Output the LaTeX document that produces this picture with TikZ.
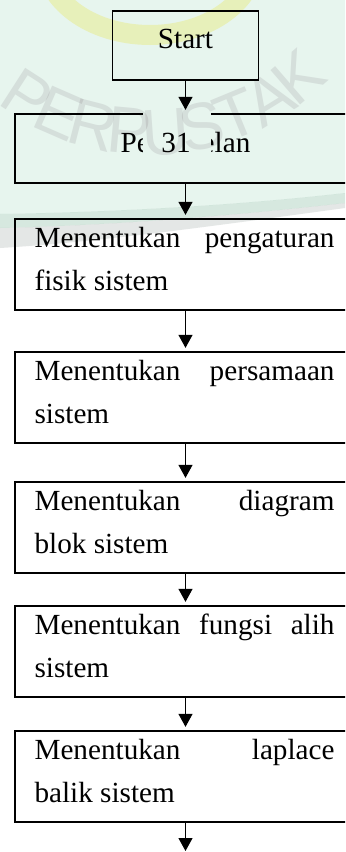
\documentclass[tikz,border=0pt]{standalone}
\usepackage{fontspec}
\setmainfont{Liberation Serif}
\newfontfamily\wmfont{Liberation Sans}
\usetikzlibrary{arrows.meta,calc}

\definecolor{mint}{RGB}{231,245,238}
\definecolor{bandgreen}{RGB}{214,232,223}
\definecolor{bandgrey}{RGB}{228,231,230}
\definecolor{wmletter}{RGB}{236,233,235}
\definecolor{wmyellow}{RGB}{255,250,200}

\tikzset{
  stepbox/.style={draw, line width=1.3bp, rectangle, inner sep=0pt,
    minimum width=341bp, minimum height=91bp},
  slimbox/.style={stepbox, minimum height=69bp},
  startbox/.style={draw, line width=1.3bp, rectangle, inner sep=0pt,
    minimum width=146bp, minimum height=69bp},
  txt/.style={inner sep=0pt, font=\fontsize{29.2bp}{43bp}\selectfont},
  flow/.style={line width=1.1bp, -{Triangle[width=14bp,length=13bp]},
    shorten >=3.5bp},
  wm/.style={inner sep=0pt, anchor=base, text=wmletter,
    font=\wmfont\fontsize{66bp}{66bp}\selectfont}
}

\newcommand{\wline}[2]{\hbox to 300bp{#1\hfill #2}}

\begin{document}
\begin{tikzpicture}[x=1bp, y=-1bp]
\useasboundingbox (0,0) rectangle (345,852);
\clip (0,0) rectangle (345,852);
\fill[white] (0,0) rectangle (345,852);

% process boxes
\node[startbox] (start) at (185.5,45.5) {};
\node[slimbox]  (b2) at (185.5,148.5) {};
\node[stepbox]  (b3) at (185.5,264.5) {};
\node[stepbox]  (b4) at (185.5,397.5) {};
\node[stepbox]  (b5) at (185.5,527.5) {};
\node[stepbox]  (b6) at (185.5,651.5) {};
\node[stepbox]  (b7) at (185.5,776.5) {};
\coordinate (tail) at (185.5,851);

% box texts
\node[txt, anchor=base] (t1) at ($(start.north)+(0,38)$) {Start};
\node[txt, anchor=base] (t2) at ($(b2.north)+(0,39)$) {Pemodelan};
\node[txt, anchor=base west] (t3a) at ($(b3.north west)+(20,29)$) {\wline{Menentukan}{pengaturan}};
\node[txt, anchor=base west] (t3b) at ($(b3.north west)+(20,72)$) {fisik sistem};
\node[txt, anchor=base west] (t4a) at ($(b4.north west)+(20,29)$) {\wline{Menentukan}{persamaan}};
\node[txt, anchor=base west] (t4b) at ($(b4.north west)+(20,72)$) {sistem};
\node[txt, anchor=base west] (t5a) at ($(b5.north west)+(20,29)$) {\wline{Menentukan}{diagram}};
\node[txt, anchor=base west] (t5b) at ($(b5.north west)+(20,72)$) {blok sistem};
\node[txt, anchor=base west] (t6a) at ($(b6.north west)+(20,29)$) {\hbox to 300bp{Menentukan\hfill fungsi\hfill alih}};
\node[txt, anchor=base west] (t6b) at ($(b6.north west)+(20,72)$) {sistem};
\node[txt, anchor=base west] (t7a) at ($(b7.north west)+(20,29)$) {\wline{Menentukan}{laplace}};
\node[txt, anchor=base west] (t7b) at ($(b7.north west)+(20,72)$) {balik sistem};

% page number set over the second box
\fill[white] (143,112) rectangle (211,168);
\node[txt, anchor=base] (pnum) at (176,152) {31};

% connectors
\draw[flow] (start.south) -- (b2.north);
\draw[flow] (b2.south) -- (b3.north);
\draw[flow] (b3.south) -- (b4.north);
\draw[flow] (b4.south) -- (b5.north);
\draw[flow] (b5.south) -- (b6.north);
\draw[flow] (b6.south) -- (b7.north);
\draw[flow, shorten >=0pt] (b7.south) -- (tail);

% library watermark, multiplied over the page
\begin{scope}[blend mode=multiply]
  \fill[mint] (0,0) -- (345,0) -- (345,193)
    .. controls (240,205) and (120,212) .. (0,214) -- cycle;
  \fill[bandgreen] (0,214) .. controls (120,212) and (240,205) .. (345,193)
    -- (345,203) .. controls (240,215) and (120,225) .. (0,228) -- cycle;
  \fill[bandgrey] (0,228) .. controls (120,225) and (240,215) .. (345,203)
    -- (345,208) .. controls (220,225) and (100,242) .. (0,248) -- cycle;
  \fill[wmyellow, even odd rule]
    (150,-40) ellipse [x radius=115, y radius=85]
    (150,-40) ellipse [x radius=95, y radius=65];
  \foreach \ch/\ang in {P/-32.8, E/-23.6, R/-14.4, P/-5.2, U/4,
                        S/13.2, T/22.4, A/31.6, K/40.8} {
    \node[wm, rotate=\ang] at ($(150,-95)+(90-\ang:250)$) {\ch};
  }
\end{scope}
\end{tikzpicture}
\end{document}
